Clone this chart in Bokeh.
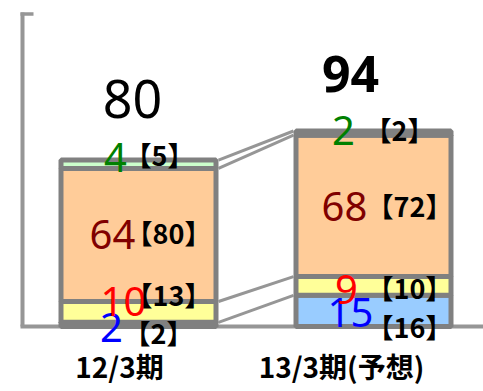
import numpy as np
from bokeh.plotting import figure
from bokeh.models import Range1d
from bokeh.core.properties import value
from bokeh.embed import file_html
from bokeh.resources import INLINE

# ---- data ----
periods = ["12/3期", "13/3期(予想)"]
totals = [80, 94]
# segments, bottom to top
blue_vals = [2, 15]
yellow_vals = [10, 9]
orange_vals = [64, 68]
green_vals = [4, 2]
# bracketed comparison values
blue_ref = [2, 16]
yellow_ref = [13, 10]
orange_ref = [80, 72]
green_ref = [5, 2]

# ---- layout / style ----
W, H = 483, 391
PX_X = 235.0          # px per category step
PX_Y = 2.08           # px per unit
CX0 = 138.0           # px of first bar centre from the left
Y0 = 326.0            # px of zero line from the top
x_start = -CX0 / PX_X
x_end = (W - CX0) / PX_X
y_start = -(H - Y0) / PX_Y
y_end = Y0 / PX_Y
BW = 155 / PX_X
AX = "#969696"
BORDER = "#808080"

p = figure(width=W, height=H, x_range=Range1d(x_start, x_end), y_range=Range1d(y_start, y_end),
           output_backend="svg", toolbar_location=None, min_border=0,
           x_axis_location=None, y_axis_location=None, outline_line_color=None)
p.grid.visible = False
p.background_fill_color = "white"

xs = np.arange(len(periods))
segs = [
    (blue_vals, blue_ref, "#99CCFF", "#0000FF"),
    (yellow_vals, yellow_ref, "#FFFF99", "#FF0000"),
    (orange_vals, orange_ref, "#FFCC99", "#800000"),
    (green_vals, green_ref, "#CCFFCC", "#008000"),
]
num_dx = [[-27, -23], [-15, -27], [-26, -29], [-23, -30]]
num_dy = [[3, 1.6], [-10.4, 3.6], [-0.5, 0.6], [-6.8, -2.6]]
br_dx = [[20, 36], [30, 36], [30, 36], [21, 26]]
br_dy = [[8, 15.6], [-17.4, 1.6], [-2.5, -0.4], [-9.8, -3.6]]

# axes lines
x_left = x_start + 22 / PX_X
y_top = (Y0 - 12) / PX_Y
p.segment(x0=[x_left], y0=[0], x1=[x_left], y1=[y_top], line_color=AX, line_width=4)
p.segment(x0=[x_left - 2 / PX_X], y0=[y_top - 1.5 / PX_Y], x1=[x_left + 11 / PX_X], y1=[y_top - 1.5 / PX_Y],
          line_color=AX, line_width=3.5)
p.segment(x0=[x_left - 2 / PX_X], y0=[0], x1=[x_end], y1=[0], line_color=AX, line_width=4)

bottom = np.zeros(len(periods))
levels = []
mids = []
for vals, _, fill, _ in segs:
    v = np.array(vals, dtype=float)
    p.vbar(x=xs, bottom=bottom, top=bottom + v, width=BW, fill_color=fill,
           line_color=BORDER, line_width=5)
    mids.append(bottom + v / 2)
    bottom = bottom + v
    levels.append(bottom.copy())

# connector lines between the two bars
lv = np.array(levels)
p.segment(x0=[BW / 2 + 2.5 / PX_X] * 4, y0=lv[:, 0], x1=[1 - BW / 2 - 2.5 / PX_X] * 4, y1=lv[:, 1],
          line_color=AX, line_width=3)

# segment value labels
for i, (vals, refv, _, tcol) in enumerate(segs):
    p.text(x=xs, y=mids[i], text=[str(v) for v in vals], x_offset=num_dx[i], y_offset=num_dy[i],
           text_align="center", text_baseline="middle", text_color=tcol,
           text_font=value("Noto Sans"), text_font_size="40px")
for i, (vals, refv, _, tcol) in enumerate(segs):
    p.text(x=xs, y=mids[i], text=["【%d】" % v for v in refv], x_offset=br_dx[i], y_offset=br_dy[i],
           text_align="center", text_baseline="middle", text_color="black",
           text_font=value("Noto Sans CJK JP"), text_font_style="bold", text_font_size="27px")

# totals
p.text(x=xs[:1], y=totals[:1], text=[str(totals[0])], x_offset=-6, y_offset=-61,
       text_align="center", text_baseline="middle", text_color="black",
       text_font=value("Noto Sans"), text_font_size="52px")
p.text(x=xs[1:], y=totals[1:], text=[str(totals[1])], x_offset=-23, y_offset=-57,
       text_align="center", text_baseline="middle", text_color="black",
       text_font=value("Noto Sans"), text_font_style="bold", text_font_size="50px")

# category labels
p.text(x=xs, y=[0, 0], text=periods, x_offset=[-19, -32], y_offset=[39, 39],
       text_align="center", text_baseline="middle", text_color="black",
       text_font=value("Noto Sans CJK JP"), text_font_style="bold", text_font_size="28px")

open("out.html", "w").write(file_html(p, INLINE))
